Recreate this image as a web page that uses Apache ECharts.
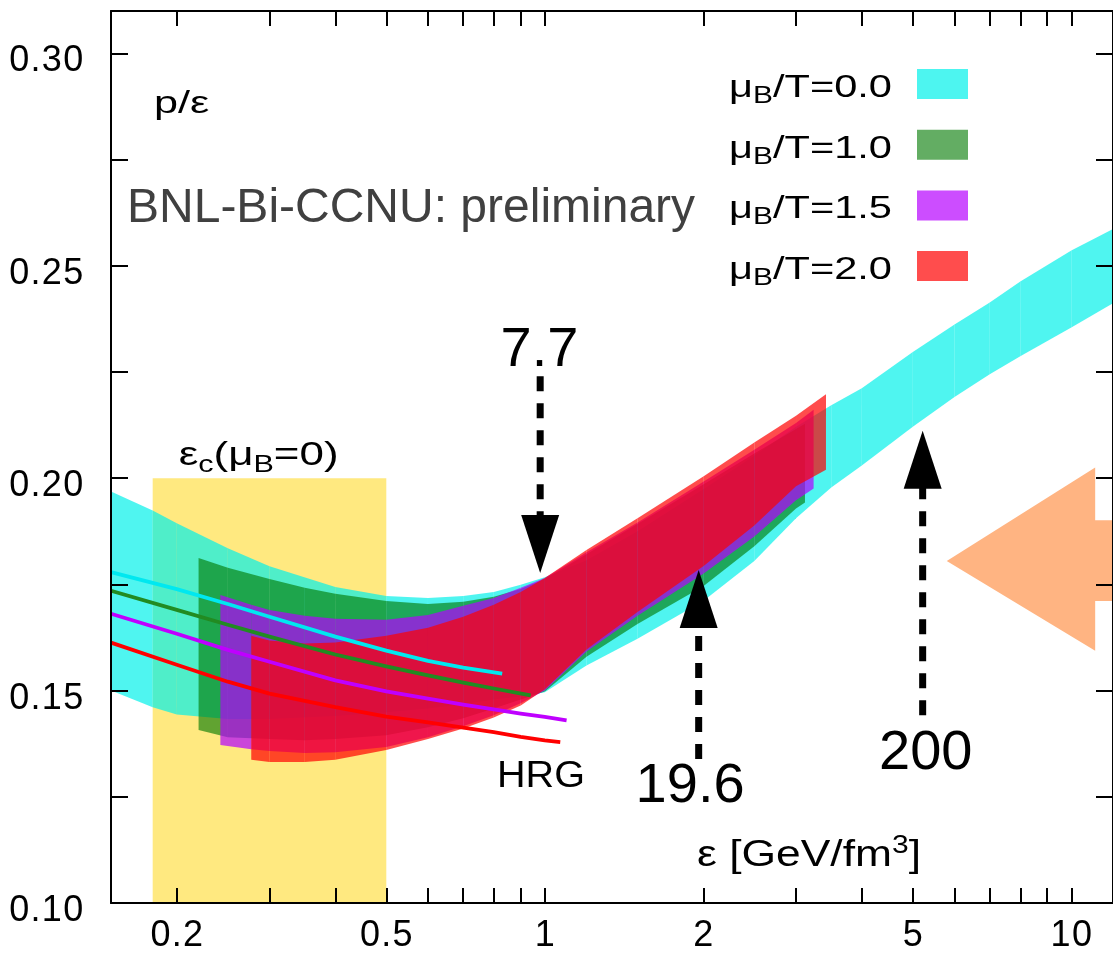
<!DOCTYPE html>
<html>
<head>
<meta charset="utf-8">
<script src="https://cdn.jsdelivr.net/npm/echarts@6/dist/echarts.min.js"></script>
<style>
  html, body { margin: 0; padding: 0; background: #fff; }
  #chart { width: 1113px; height: 954px; }
</style>
</head>
<body>
<div id="chart"></div>
<script>
// ---- axis ticks (energy density in GeV/fm^3, log scale) ----
const xTickValues  = [0.2, 0.3, 0.4, 0.5, 0.6, 0.7, 0.8, 0.9, 1, 2, 3, 4, 5, 6, 7, 8, 9, 10];
const xLabelValues = [0.2, 0.5, 1, 2, 5, 10];
const yTickValues  = [0.10, 0.125, 0.15, 0.175, 0.20, 0.225, 0.25, 0.275, 0.30];
const yLabelValues = [0.10, 0.15, 0.20, 0.25, 0.30];

// ---- p/eps bands (lower / upper edge) ----
// muB/T = 0.0
const epsMu00  = [0.15, 0.18, 0.2, 0.25, 0.3, 0.4, 0.5, 0.6, 0.7, 0.8, 0.9, 1.0, 1.2, 1.5, 2, 2.5, 3, 3.5, 4, 5, 6, 7, 8, 10, 12];
const lowMu00  = [0.1500, 0.1461, 0.1444, 0.1433, 0.1433, 0.1440, 0.1449, 0.1458, 0.1468, 0.1479, 0.1486, 0.1496, 0.1559, 0.1622, 0.1711, 0.1805, 0.1906, 0.1978, 0.2030, 0.2121, 0.2191, 0.2245, 0.2287, 0.2355, 0.2412];
const highMu00 = [0.1969, 0.1924, 0.1894, 0.1835, 0.1793, 0.1744, 0.1723, 0.1718, 0.1723, 0.1732, 0.1749, 0.1767, 0.1807, 0.1875, 0.1974, 0.2053, 0.2121, 0.2172, 0.2212, 0.2297, 0.2362, 0.2414, 0.2463, 0.2536, 0.2587];
// muB/T = 1.0
const epsMu10  = [0.22, 0.25, 0.3, 0.35, 0.4, 0.5, 0.6, 0.7, 0.8, 0.9, 1.0, 1.2, 1.5, 2, 2.5, 3, 3.12];
const lowMu10  = [0.1407, 0.1390, 0.1386, 0.1383, 0.1386, 0.1395, 0.1414, 0.1435, 0.1458, 0.1479, 0.1498, 0.1580, 0.1657, 0.1746, 0.1840, 0.1929, 0.1943];
const highMu10 = [0.1812, 0.1789, 0.1763, 0.1742, 0.1728, 0.1711, 0.1704, 0.1709, 0.1721, 0.1739, 0.1763, 0.1821, 0.1892, 0.1985, 0.2058, 0.2116, 0.2128];
// muB/T = 1.5
const epsMu15  = [0.242, 0.277, 0.3, 0.35, 0.4, 0.5, 0.6, 0.7, 0.8, 0.9, 1.0, 1.2, 1.5, 2, 2.5, 3, 3.24];
const lowMu15  = [0.1372, 0.1362, 0.1358, 0.1353, 0.1355, 0.1367, 0.1390, 0.1416, 0.1442, 0.1470, 0.1500, 0.1592, 0.1676, 0.1775, 0.1863, 0.1948, 0.1976];
const highMu15 = [0.1725, 0.1702, 0.1690, 0.1676, 0.1669, 0.1667, 0.1678, 0.1700, 0.1718, 0.1742, 0.1765, 0.1826, 0.1896, 0.1992, 0.2067, 0.2130, 0.2161];
// muB/T = 2.0
const epsMu20  = [0.277, 0.3, 0.35, 0.4, 0.5, 0.6, 0.7, 0.8, 0.9, 1.0, 1.2, 1.5, 2, 2.5, 3, 3.42];
const lowMu20  = [0.1337, 0.1332, 0.1332, 0.1337, 0.1360, 0.1386, 0.1411, 0.1437, 0.1465, 0.1503, 0.1597, 0.1685, 0.1793, 0.1889, 0.1981, 0.2020];
const highMu20 = [0.1629, 0.1618, 0.1611, 0.1613, 0.1629, 0.1648, 0.1674, 0.1702, 0.1732, 0.1765, 0.1831, 0.1906, 0.2004, 0.2084, 0.2147, 0.2198];

// ---- hadron resonance gas curves ----
const hrgEps00 = [0.15, 0.2, 0.25, 0.3, 0.4, 0.5, 0.6, 0.7, 0.83];
const hrgVal00 = [0.1779, 0.1739, 0.1704, 0.1674, 0.1627, 0.1594, 0.1570, 0.1554, 0.1540];
const hrgEps10 = [0.15, 0.2, 0.25, 0.3, 0.4, 0.5, 0.6, 0.7, 0.8, 0.94];
const hrgVal10 = [0.1735, 0.1690, 0.1655, 0.1627, 0.1585, 0.1557, 0.1536, 0.1519, 0.1505, 0.1489];
const hrgEps15 = [0.15, 0.2, 0.25, 0.3, 0.4, 0.5, 0.6, 0.7, 0.8, 0.9, 1.0, 1.1];
const hrgVal15 = [0.1681, 0.1634, 0.1596, 0.1568, 0.1524, 0.1498, 0.1481, 0.1467, 0.1456, 0.1446, 0.1438, 0.1430];
const hrgEps20 = [0.15, 0.2, 0.25, 0.3, 0.4, 0.5, 0.6, 0.7, 0.8, 0.9, 1.0, 1.07];
const hrgVal20 = [0.1613, 0.1561, 0.1521, 0.1493, 0.1461, 0.1439, 0.1425, 0.1413, 0.1402, 0.1391, 0.1383, 0.1379];

// ---- critical energy density window eps_c(muB=0) ----
const critEps = [0.18, 0.5];
const critVal = [0.10, 0.20];

// ---- collision energies (sqrt(s) in GeV) marked by arrows ----
const arrowText     = ['7.7', '19.6', '200'];
const arrowEps      = [0.98, 1.96, 5.22];
const arrowTip      = [0.1777, 0.1784, 0.2112];
const arrowTail     = [0.2240, 0.1339, 0.1442];
const arrowLabelEps = [0.977, 1.888, 5.29];
const arrowLabelVal = [0.2301, 0.1275, 0.1351];

// ---- LHC direction marker ----
const lhcEps = [5.80, 11.1, 11.1, 12.0, 12.0, 11.1, 11.1];
const lhcVal = [0.1805, 0.2025, 0.1901, 0.1901, 0.1711, 0.1711, 0.1594];

// ---- legend ----
const legendMu     = ['0.0', '1.0', '1.5', '2.0'];
const legendColors = ['#4df5f0', '#63ad63', '#cc4dff', '#ff4d4d'];

const FONT = '"Liberation Sans", Arial, Helvetica, sans-serif';
const lg = Math.log10;

// tick numbers are set with a wide, evenly spaced digit cell
function spacedDigits(s) {
  return s.split('').map(ch => (ch === '.' ? '{p|.}' : '{d|' + ch + '}')).join('');
}
function tickRich(padTop) {
  const base = { fontFamily: FONT, fontSize: 36, color: '#000', align: 'center', padding: [padTop, 0, 0, 0] };
  return {
    d: Object.assign({ width: 21.5 }, base),
    p: Object.assign({ width: 11 }, base)
  };
}

function bandSeries(eps, lo, hi, fill) {
  const data = eps.map((e, i) => [lg(e), lo[i], hi[i]]);
  return {
    type: 'custom',
    coordinateSystem: 'cartesian2d',
    silent: true,
    animation: false,
    data: data,
    encode: { x: 0, y: [1, 2] },
    renderItem: function (params, api) {
      const i = params.dataIndex;
      if (i >= data.length - 1) return { type: 'group', children: [] };
      const a = data[i], b = data[i + 1];
      return {
        type: 'polygon',
        shape: { points: [
          api.coord([a[0], a[1]]), api.coord([b[0], b[1]]),
          api.coord([b[0], b[2]]), api.coord([a[0], a[2]])
        ] },
        style: { fill: fill }
      };
    }
  };
}

function hrgSeries(eps, vals, color) {
  return {
    type: 'line',
    silent: true,
    animation: false,
    showSymbol: false,
    smooth: false,
    data: eps.map((e, i) => [lg(e), vals[i]]),
    lineStyle: { color: color, width: 3.8, join: 'round' },
    z: 4
  };
}

// rich-text styles for subscripted labels
function subRich(size, subSize) {
  return {
    a: { fontFamily: FONT, fontSize: size, lineHeight: size + 8, fill: '#000' },
    s: { fontFamily: FONT, fontSize: subSize, lineHeight: subSize - 1, verticalAlign: 'bottom', fill: '#000' }
  };
}

const critSeries = {
  type: 'custom',
  coordinateSystem: 'cartesian2d',
  silent: true,
  animation: false,
  data: [[lg(critEps[0]), critVal[0], lg(critEps[1]), critVal[1]]],
  encode: { x: [0, 2], y: [1, 3] },
  renderItem: function (params, api) {
    const p0 = api.coord([api.value(0), api.value(1)]);
    const p1 = api.coord([api.value(2), api.value(3)]);
    return {
      type: 'group',
      children: [
        { type: 'rect', shape: { x: p0[0], y: p1[1], width: p1[0] - p0[0], height: p0[1] - p1[1] },
          style: { fill: '#ffe980' } },
        { type: 'text', x: p0[0] + 26, y: p1[1] - 22, scaleX: 1.33,
          style: { text: '{a|ε}{s|c}{a|(μ}{s|B}{a|=0)}', align: 'left', verticalAlign: 'middle',
            rich: subRich(33, 23) } }
      ]
    };
  },
  z: 1
};

const lhcSeries = {
  type: 'custom',
  coordinateSystem: 'cartesian2d',
  silent: true,
  animation: false,
  data: [0],
  renderItem: function (params, api) {
    return {
      type: 'polygon',
      shape: { points: lhcEps.map((e, i) => api.coord([lg(e), lhcVal[i]])) },
      style: { fill: '#ffb482' }
    };
  },
  z: 3
};

const arrowSeries = {
  type: 'custom',
  coordinateSystem: 'cartesian2d',
  silent: true,
  animation: false,
  data: arrowEps.map((e, i) => [lg(e), arrowTip[i], arrowTail[i], lg(arrowLabelEps[i]), arrowLabelVal[i]]),
  encode: { x: 0, y: [1, 2] },
  renderItem: function (params, api) {
    const i = params.dataIndex;
    const tip = api.coord([api.value(0), api.value(1)]);
    const tail = api.coord([api.value(0), api.value(2)]);
    const lab = api.coord([api.value(3), api.value(4)]);
    const dir = tip[1] > tail[1] ? 1 : -1;
    const headLen = 58, headHalf = 19;
    const baseY = tip[1] - dir * headLen;
    return {
      type: 'group',
      children: [
        { type: 'line', shape: { x1: tail[0], y1: tail[1], x2: tip[0], y2: baseY + dir * 2 },
          style: { stroke: '#000', lineWidth: 7, lineDash: [15, 12] } },
        { type: 'polygon', shape: { points: [[tip[0], tip[1]], [tip[0] - headHalf, baseY], [tip[0] + headHalf, baseY]] },
          style: { fill: '#000' } },
        { type: 'text', x: lab[0], y: lab[1],
          style: { text: arrowText[i], fontFamily: FONT, fontSize: 56, fill: '#000', align: 'center', verticalAlign: 'middle' } }
      ]
    };
  },
  z: 5
};

const legendGraphics = [];
legendMu.forEach((mu, i) => {
  const cy = 88 + i * 60.7;
  legendGraphics.push({
    type: 'text', x: 729, y: cy, scaleX: 1.3,
    style: { text: '{a|μ}{s|B}{a|/T=' + mu + '}', align: 'left', verticalAlign: 'middle',
      rich: subRich(32, 23) }
  });
  legendGraphics.push({
    type: 'rect', shape: { x: 917, y: cy - 19, width: 51, height: 30 },
    style: { fill: legendColors[i] }
  });
});

const chart = echarts.init(document.getElementById('chart'), null, { renderer: 'canvas' });

const xAxisBase = {
  type: 'value',
  min: lg(0.15),
  max: lg(12),
  z: 10,
  splitLine: { show: false },
  axisLine: { show: true, onZero: false, lineStyle: { color: '#000', width: 2 } },
  axisTick: { show: true, inside: true, length: 15, customValues: xTickValues.map(lg), lineStyle: { color: '#000', width: 2 } }
};
const yAxisBase = {
  type: 'value',
  min: 0.10,
  max: 0.31,
  z: 10,
  splitLine: { show: false },
  axisLine: { show: true, onZero: false, lineStyle: { color: '#000', width: 2 } },
  axisTick: { show: true, inside: true, length: 17, customValues: yTickValues, lineStyle: { color: '#000', width: 2 } }
};

chart.setOption({
  animation: false,
  backgroundColor: '#fff',
  grid: { left: 111, top: 11, width: 1003, height: 896, containLabel: false },
  xAxis: [
    Object.assign({}, xAxisBase, {
      position: 'bottom',
      axisLabel: {
        show: true, customValues: xLabelValues.map(lg), margin: 15,
        fontFamily: FONT, fontSize: 36, color: '#000',
        formatter: v => spacedDigits(String(Number(Math.pow(10, v).toPrecision(2)))),
        rich: tickRich(0)
      }
    }),
    Object.assign({}, xAxisBase, { position: 'top', axisLabel: { show: false } })
  ],
  yAxis: [
    Object.assign({}, yAxisBase, {
      position: 'left',
      axisLabel: {
        show: true, customValues: yLabelValues, margin: 27,
        fontFamily: FONT, fontSize: 36, color: '#000',
        formatter: v => spacedDigits(v.toFixed(2)),
        rich: tickRich(16)
      }
    }),
    Object.assign({}, yAxisBase, { position: 'right', axisLabel: { show: false } })
  ],
  series: [
    critSeries,
    bandSeries(epsMu00, lowMu00, highMu00, 'rgba(0,240,233,0.69)'),
    bandSeries(epsMu10, lowMu10, highMu10, 'rgba(0,120,0,0.62)'),
    bandSeries(epsMu15, lowMu15, highMu15, 'rgba(180,0,255,0.70)'),
    bandSeries(epsMu20, lowMu20, highMu20, 'rgba(255,0,0,0.70)'),
    hrgSeries(hrgEps00, hrgVal00, '#00e8f0'),
    hrgSeries(hrgEps10, hrgVal10, '#228b22'),
    hrgSeries(hrgEps15, hrgVal15, '#bf00ff'),
    hrgSeries(hrgEps20, hrgVal20, '#ff0000'),
    lhcSeries,
    arrowSeries
  ],
  graphic: [
    { type: 'text', x: 154, y: 104, z: 20, scaleX: 1.35,
      style: { text: 'p/ε', fontFamily: FONT, fontSize: 32, fill: '#000', align: 'left', verticalAlign: 'middle' } },
    { type: 'text', x: 127, y: 209, z: 20,
      style: { text: 'BNL-Bi-CCNU: preliminary', fontFamily: FONT, fontSize: 48, fill: '#404040', align: 'left', verticalAlign: 'middle' } },
    { type: 'text', x: 497, y: 777, z: 20, scaleX: 1.1,
      style: { text: 'HRG', fontFamily: FONT, fontSize: 36, fill: '#000', align: 'left', verticalAlign: 'middle' } },
    { type: 'text', x: 697, y: 856, z: 20, scaleX: 1.2,
      style: { text: '{a|ε [GeV/fm}{t|3}{a|]}', align: 'left', verticalAlign: 'middle',
        rich: {
          a: { fontFamily: FONT, fontSize: 37, lineHeight: 44, fill: '#000' },
          t: { fontFamily: FONT, fontSize: 25, lineHeight: 24, verticalAlign: 'top', fill: '#000' }
        } } }
  ].concat(legendGraphics.map(g => Object.assign({ z: 20 }, g)))
});
</script>
</body>
</html>
